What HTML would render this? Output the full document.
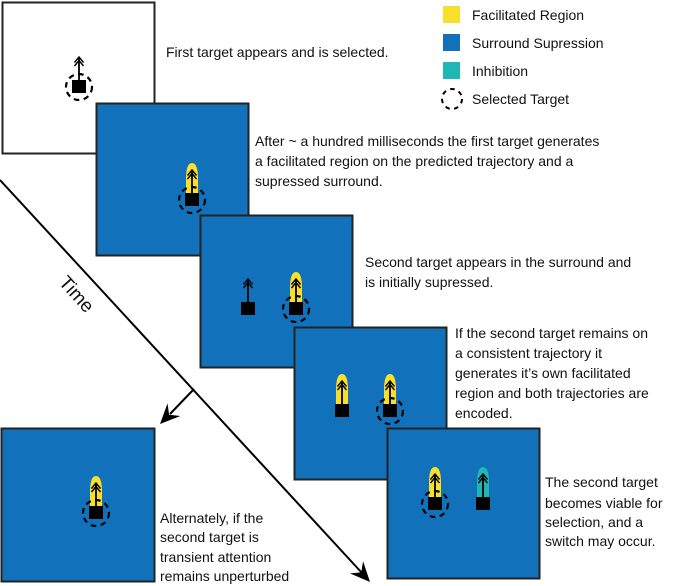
<!DOCTYPE html>
<html><head><meta charset="utf-8"><style>
html,body{margin:0;padding:0;background:#fff;}
svg{display:block;}
text{font-family:"Liberation Sans",sans-serif;font-size:14px;fill:#111;}
</style></head><body>
<svg width="674" height="586" viewBox="0 0 674 586" xmlns="http://www.w3.org/2000/svg">
<defs>
  <g id="arr">
    <line x1="7" y1="-23" x2="7" y2="0" stroke="#000" stroke-width="1.8"/>
    <polyline points="2.5,-17.5 7,-23 11.5,-17.5" fill="none" stroke="#000" stroke-width="1.4"/>
    <polyline points="2.5,-14 7,-19.5 11.5,-14" fill="none" stroke="#000" stroke-width="1.4"/>
    <rect x="0" y="0" width="14" height="13" fill="#000"/>
  </g>
  <path id="yel" d="M1,2 L1,-14 Q1,-30 7,-30 Q13,-30 13,-14 L13,2 Z" fill="#f8df2a"/>
  <path id="teal" d="M1,2 L1,-14 Q1,-30 7,-30 Q13,-30 13,-14 L13,2 Z" fill="#1fb7b5"/>
  <circle id="sel" cx="7" cy="7" r="13" fill="none" stroke="#000" stroke-width="2.2" stroke-dasharray="5.5 4.5"/>
</defs>

<!-- Time line -->
<line x1="0" y1="180" x2="362" y2="573" stroke="#000" stroke-width="2"/>
<path d="M370,582 L363.1,561.2 L361.2,572.4 L349.9,573.4 Z" fill="#000"/>
<line x1="194" y1="389" x2="170" y2="414" stroke="#000" stroke-width="2"/>
<path d="M160,424 L180.4,416 L169.1,414.7 L167.5,403.4 Z" fill="#000"/>
<text x="0" y="0" transform="translate(58,283) rotate(48)" style="font-size:19px">Time</text>

<!-- Panel 1 -->
<rect x="2.5" y="2.5" width="152" height="151" fill="#fff" stroke="#222" stroke-width="2"/>
<g transform="translate(72,80)"><use href="#arr"/><use href="#sel"/></g>

<!-- Panel 2 -->
<rect x="96.5" y="103.5" width="152" height="152" fill="#1172bb" stroke="#222" stroke-width="2"/>
<g transform="translate(185,193)"><use href="#yel"/><use href="#arr"/><use href="#sel"/></g>

<!-- Panel 3 -->
<rect x="200.5" y="215.5" width="152" height="152" fill="#1172bb" stroke="#222" stroke-width="2"/>
<g transform="translate(241,302)"><use href="#arr"/></g>
<g transform="translate(289,302)"><use href="#yel"/><use href="#arr"/><use href="#sel"/></g>

<!-- Panel 4 -->
<rect x="294.5" y="327.5" width="152" height="152" fill="#1172bb" stroke="#222" stroke-width="2"/>
<g transform="translate(335,404)"><use href="#yel"/><use href="#arr"/></g>
<g transform="translate(383,404)"><use href="#yel"/><use href="#arr"/><use href="#sel"/></g>

<!-- Panel 5 -->
<rect x="387.5" y="428.5" width="152" height="150" fill="#1172bb" stroke="#222" stroke-width="2"/>
<g transform="translate(428,497)"><use href="#yel"/><use href="#arr"/><use href="#sel"/></g>
<g transform="translate(476,497)"><use href="#teal"/><use href="#arr"/></g>

<!-- Panel 6 -->
<rect x="1.5" y="428.5" width="153" height="153" fill="#1172bb" stroke="#222" stroke-width="2"/>
<g transform="translate(89,506)"><use href="#yel"/><use href="#arr"/><use href="#sel"/></g>

<!-- Legend -->
<rect x="443" y="6" width="17" height="17" fill="#f8df2a"/>
<rect x="443" y="34" width="17" height="17" fill="#1172bb"/>
<rect x="443" y="62" width="17" height="17" fill="#1fb7b5"/>
<circle cx="452" cy="99" r="10" fill="none" stroke="#000" stroke-width="2" stroke-dasharray="4.5 4.5"/>
<text x="472" y="20">Facilitated Region</text>
<text x="472" y="48">Surround Supression</text>
<text x="472" y="76">Inhibition</text>
<text x="472" y="104">Selected Target</text>

<!-- Descriptions -->
<text x="166" y="57">First target appears and is selected.</text>
<text x="255" y="146">After ~ a hundred milliseconds the first target generates</text>
<text x="255" y="166">a facilitated region on the predicted trajectory and a</text>
<text x="255" y="186">supressed surround.</text>
<text x="365" y="267">Second target appears in the surround and</text>
<text x="365" y="287">is initially supressed.</text>
<text x="455" y="338">If the second target remains on</text>
<text x="455" y="358">a consistent trajectory it</text>
<text x="455" y="378">generates it’s own facilitated</text>
<text x="455" y="398">region and both trajectories are</text>
<text x="455" y="418">encoded.</text>
<text x="545" y="487">The second target</text>
<text x="545" y="508">becomes viable for</text>
<text x="545" y="527">selection, and a</text>
<text x="545" y="546">switch may occur.</text>
<text x="160" y="523">Alternately, if the</text>
<text x="160" y="542">second target is</text>
<text x="160" y="562">transient attention</text>
<text x="160" y="581">remains unperturbed</text>
</svg>
</body></html>
